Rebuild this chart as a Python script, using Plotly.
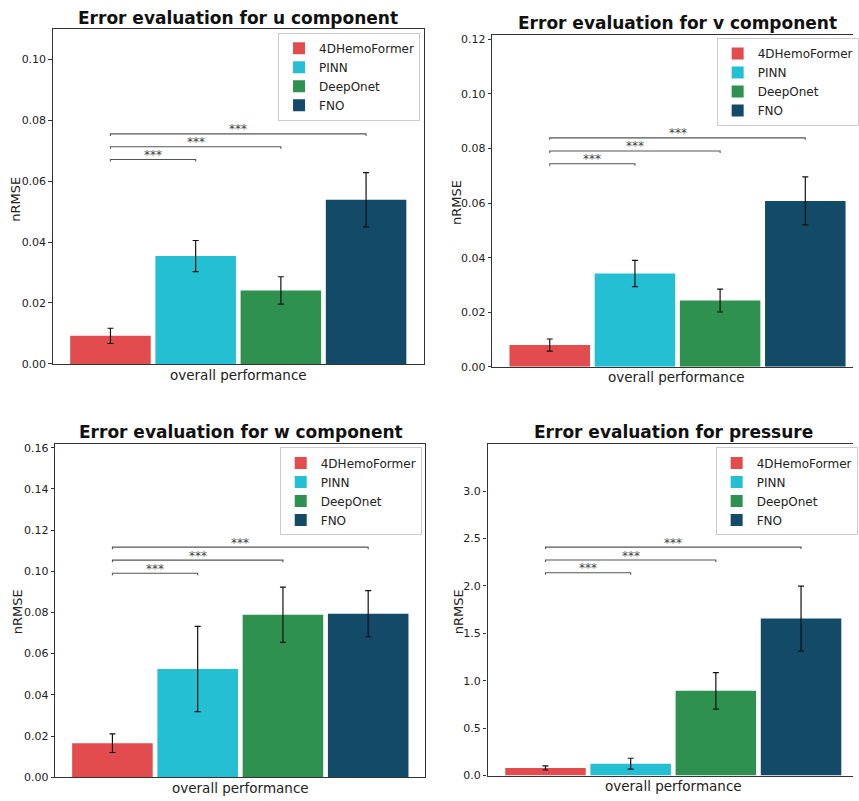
import plotly.graph_objects as go

# ---------------- data ----------------
methods = ["4DHemoFormer", "PINN", "DeepOnet", "FNO"]
colors = ["#E34C4F", "#24BFD2", "#2E9150", "#124A67"]

u_mean = [0.0092, 0.0354, 0.0241, 0.0539]
u_err = [0.0025, 0.0051, 0.0045, 0.0089]
v_mean = [0.0080, 0.0342, 0.0243, 0.0608]
v_err = [0.0022, 0.0048, 0.0042, 0.0088]
w_mean = [0.0165, 0.0525, 0.0789, 0.0794]
w_err = [0.0045, 0.0207, 0.0134, 0.0112]
p_mean = [0.080, 0.125, 0.893, 1.655]
p_err = [0.022, 0.057, 0.193, 0.343]

u_sig = [0.0671, 0.0713, 0.0755]
v_sig = [0.0744, 0.0791, 0.0839]
w_sig = [0.0990, 0.1054, 0.1117]
p_sig = [2.138, 2.273, 2.409]
sig_labels = ["***", "***", "***"]

titles = ["Error evaluation for u component", "Error evaluation for v component",
          "Error evaluation for w component", "Error evaluation for pressure"]
xlabel = "overall performance"
ylabel = "nRMSE"

u_ticks = [0.00, 0.02, 0.04, 0.06, 0.08, 0.10]
v_ticks = [0.00, 0.02, 0.04, 0.06, 0.08, 0.10, 0.12]
w_ticks = [0.00, 0.02, 0.04, 0.06, 0.08, 0.10, 0.12, 0.14, 0.16]
p_ticks = [0.0, 0.5, 1.0, 1.5, 2.0, 2.5, 3.0]

# ---------------- layout helpers ----------------
W, H = 859, 801
FONT = "DejaVu Sans"


def px(x):
    return x / W


def py(y):
    return 1 - y / H


panels = [
    dict(mean=u_mean, err=u_err, sig=u_sig, ticks=u_ticks, fmt=".2f", ymax=0.1098,
         box=(53.3, 427.0, 27.7, 366.0), xr=(-0.435, 0.436), mirror=True,
         title_xy=(240.0, 16.0), ylab_xy=(16.0, 199.0), xlab_xy=(240.0, 377.0),
         legend_xy=(280.0, 31.0)),
    dict(mean=v_mean, err=v_err, sig=v_sig, ticks=v_ticks, fmt=".2f", ymax=0.1216,
         box=(495.7, 859.0, 33.3, 369.0), xr=(-0.435, 0.412), mirror=False,
         title_xy=(682.0, 21.0), ylab_xy=(459.3, 203.3), xlab_xy=(681.7, 379.5),
         legend_xy=(721.7, 36.5)),
    dict(mean=w_mean, err=w_err, sig=w_sig, ticks=w_ticks, fmt=".2f", ymax=0.1618,
         box=(55.7, 428.3, 447.0, 784.0), xr=(-0.434, 0.434), mirror=True,
         title_xy=(242.5, 435.0), ylab_xy=(17.5, 616.7), xlab_xy=(242.3, 794.5),
         legend_xy=(281.7, 450.5)),
    dict(mean=p_mean, err=p_err, sig=p_sig, ticks=p_ticks, fmt=".1f", ymax=3.50,
         box=(491.0, 859.0, 446.7, 782.3), xr=(-0.436, 0.422), mirror=False,
         title_xy=(678.3, 435.0), ylab_xy=(461.7, 616.7), xlab_xy=(678.3, 792.5),
         legend_xy=(720.7, 450.5)),
]

spacing = 0.2
bar_w = 0.189
offsets = [(i - (len(methods) - 1) / 2) * spacing for i in range(len(methods))]

fig = go.Figure()
annotations = []
layout_upd = {}

for k, pn in enumerate(panels):
    sfx = "" if k == 0 else str(k + 1)
    xa, ya = "x" + sfx, "y" + sfx
    leg = "legend" + sfx
    for i, m in enumerate(methods):
        fig.add_trace(go.Bar(
            x=[offsets[i]], y=[pn["mean"][i]], width=bar_w, name=m,
            marker=dict(color=colors[i], line=dict(width=0)),
            error_y=dict(type="data", array=[pn["err"][i]], color="#111111",
                         thickness=1.2, width=3),
            xaxis=xa, yaxis=ya, legend=leg, showlegend=True, hoverinfo="skip"))
    # significance brackets
    tick = pn["ymax"] * 0.006
    for j, h in enumerate(pn["sig"]):
        x0, x1 = offsets[0], offsets[j + 1]
        fig.add_trace(go.Scatter(
            x=[x0, x0, x1, x1], y=[h - tick, h, h, h - tick], mode="lines",
            line=dict(color="#555555", width=1.1), xaxis=xa, yaxis=ya,
            showlegend=False, hoverinfo="skip"))
        annotations.append(dict(
            x=(x0 + x1) / 2, y=h, xref=xa, yref=ya, text=sig_labels[j],
            showarrow=False, yanchor="middle", yshift=4.5,
            font=dict(family=FONT, size=12, color="#444444")))

    l, r, t, b = pn["box"]
    layout_upd["xaxis" + sfx] = dict(
        domain=[px(l), px(r)], range=list(pn["xr"]), anchor=ya,
        showticklabels=False, ticks="", showgrid=False, zeroline=False,
        showline=True, linecolor="#333333", linewidth=1.2, mirror=True,
        fixedrange=True)
    layout_upd["yaxis" + sfx] = dict(
        domain=[py(b), py(t)], range=[0, pn["ymax"]], anchor=xa,
        tickvals=pn["ticks"], tickformat=pn["fmt"], ticks="outside", ticklen=3.5,
        tickwidth=1, tickcolor="#333333", showgrid=False, zeroline=False,
        showline=True, linecolor="#333333", linewidth=1.2, mirror=pn["mirror"],
        tickfont=dict(family=FONT, size=11, color="#222222"), fixedrange=True)
    lx, ly = pn["legend_xy"]
    layout_upd[leg] = dict(
        x=px(lx), y=py(ly), xanchor="left", yanchor="top",
        bgcolor="rgba(255,255,255,0.85)", bordercolor="#cccccc", borderwidth=1,
        font=dict(family=FONT, size=12, color="#222222"), tracegroupgap=0,
        itemwidth=30, traceorder="normal")

    tx, ty = pn["title_xy"]
    annotations.append(dict(
        x=px(tx), y=py(ty), xref="paper", yref="paper", text="<b>" + titles[k] + "</b>",
        showarrow=False, xanchor="center", yanchor="middle",
        font=dict(family=FONT, size=17, color="#111111")))
    yx, yy = pn["ylab_xy"]
    annotations.append(dict(
        x=px(yx), y=py(yy), xref="paper", yref="paper", text=ylabel, textangle=-90,
        showarrow=False, xanchor="center", yanchor="middle",
        font=dict(family=FONT, size=13, color="#222222")))
    xx, xy = pn["xlab_xy"]
    annotations.append(dict(
        x=px(xx), y=py(xy), xref="paper", yref="paper", text=xlabel,
        showarrow=False, xanchor="center", yanchor="middle",
        font=dict(family=FONT, size=13.5, color="#222222")))

fig.update_layout(
    width=W, height=H, autosize=False,
    margin=dict(l=0, r=0, t=0, b=0),
    paper_bgcolor="white", plot_bgcolor="white",
    barmode="overlay", annotations=annotations,
    font=dict(family=FONT), **layout_upd)

fig.write_html("out.html")
